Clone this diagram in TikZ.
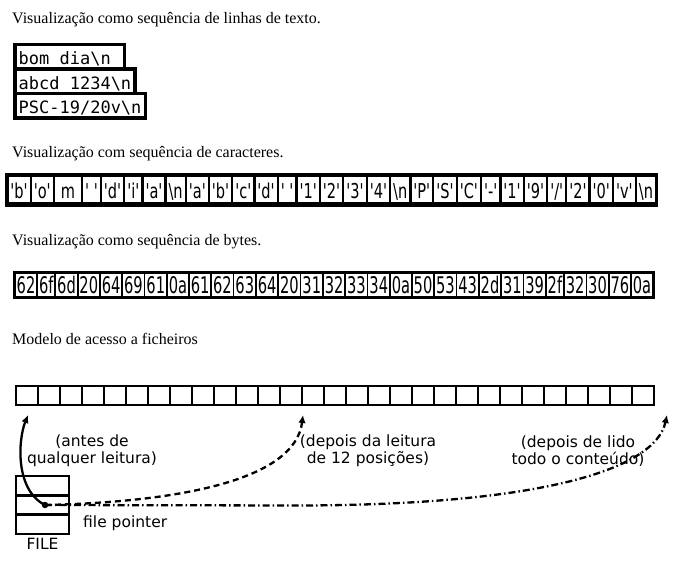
\documentclass[tikz,border=0pt]{standalone}
\usepackage{fontspec}
\setmainfont{Liberation Serif}
\newfontfamily\monofont{DejaVu Sans Mono}
\newfontfamily\cellfontA[FakeStretch=0.71]{DejaVu Sans}
\newfontfamily\cellfontB[FakeStretch=0.64]{DejaVu Sans}
\newfontfamily\labelfont{DejaVu Sans}
\usetikzlibrary{arrows.meta,calc,backgrounds}
\newcommand\sq{\char39\relax}
\newcommand\bsl{\char92\relax}
\begin{document}
\begin{tikzpicture}[x=1pt,y=-1pt,
  title/.style={font=\fontsize{16}{19}\selectfont, inner sep=0pt, anchor=base west},
  linebox/.style={draw, line width=3.3pt, inner xsep=3.7pt, inner ysep=0pt, outer sep=0pt,
    minimum height=24.5pt, text height=16.3pt, text depth=0pt, anchor=north west,
    font=\monofont\fontsize{17}{20}\selectfont},
  ccell/.style={fill=white, inner xsep=1.92pt, inner ysep=0pt, outer sep=0pt,
    minimum height=25pt, text height=16.6pt, text depth=0pt, anchor=west,
    font=\cellfontA\fontsize{20.5}{24}\selectfont},
  bcell/.style={fill=white, inner xsep=0.99pt, inner ysep=0pt, outer sep=0pt,
    minimum height=21pt, text height=16.6pt, text depth=0pt, anchor=west,
    font=\cellfontB\fontsize{22.9}{26}\selectfont},
  mcell/.style={draw, line width=2.4pt, minimum width=21.99pt, minimum height=18.6pt,
    inner sep=0pt, outer sep=0pt, anchor=west},
  fcell/.style={draw, line width=2.4pt, minimum width=52.6pt, minimum height=19.2pt,
    inner sep=0pt, outer sep=0pt},
  lbl/.style={font=\labelfont\fontsize{15.5}{16.7}\selectfont, align=center, inner sep=0pt},
  ptr/.style={line width=2.3pt, -{Latex[length=8pt,width=7.5pt]}},
]
\useasboundingbox (0,0) rectangle (683,564);
\begin{scope}[on background layer]
  \fill[white] (0,0) rectangle (683,564);
\end{scope}

% titles
\node[title] (t1) at (12,24) {Visualização como sequência de linhas de texto.};
\node[title] (t2) at (12,157.3) {Visualização com sequência de caracteres.};
\node[title] (t3) at (12,246) {Visualização como sequência de bytes.};
\node[title] (t4) at (12,344) {Modelo de acesso a ficheiros};

% line boxes
\node[linebox] (l1) at (14.95,44.6) {\makebox[6.02em][l]{bom dia\bsl n}};
\node[linebox] (l2) at (14.95,69.1) {abcd 1234\bsl n};
\node[linebox] (l3) at (14.95,93.6) {PSC-19/20v\bsl n};

% character row
\foreach \t [count=\i, remember=\i as \j (initially 0)] in
  {{\sq b\sq},{\sq o\sq},{\phantom{\sq}m\phantom{\sq}},{\sq\ \sq},{\sq d\sq},{\sq i\sq},{\sq a\sq},{\bsl n},
   {\sq a\sq},{\sq b\sq},{\sq c\sq},{\sq d\sq},{\sq\ \sq},{\sq 1\sq},{\sq 2\sq},{\sq 3\sq},{\sq 4\sq},{\bsl n},
   {\sq P\sq},{\sq S\sq},{\sq C\sq},{\sq -\sq},{\sq 1\sq},{\sq 9\sq},{\sq /\sq},{\sq 2\sq},{\sq 0\sq},{\sq v\sq},{\bsl n}}
{
  \ifnum\i=1
    \node[ccell] (c1) at (8.5,190) {\t};
  \else
    \node[ccell] (c\i) at ([xshift=2.3pt]c\j.east) {\t};
  \fi
}
\begin{scope}[on background layer]
  \fill[black] ($(c1.north west)+(-3.5,-4.2)$) rectangle ($(c29.south east)+(3.5,4.2)$);
\end{scope}

% byte row
\foreach \t [count=\i, remember=\i as \j (initially 0)] in
  {62,6f,6d,20,64,69,61,0a,61,62,63,64,20,31,32,33,34,0a,50,53,43,2d,31,39,2f,32,30,76,0a}
{
  \ifnum\i=1
    \node[bcell] (b1) at (15.7,285) {\t};
  \else
    \node[bcell] (b\i) at ([xshift=1.7pt]b\j.east) {\t};
  \fi
}
\begin{scope}[on background layer]
  \fill[black] ($(b1.north west)+(-3,-3)$) rectangle ($(b29.south east)+(3,3)$);
\end{scope}

% file model
\foreach \i in {1,...,29}
  \node[mcell] (m\i) at ({16.2+(\i-1)*21.99},395.5) {};

\node[fcell] (f1) at (42.5,485.8) {};
\node[fcell] (f2) at (42.5,505) {};
\node[fcell] (f3) at (42.5,524.2) {};
\node[lbl, anchor=base] (filelbl) at (42.5,549) {FILE};
\node[lbl, anchor=base west] (fp) at (83,527.5) {file pointer};

\node[lbl] (lab1) at (92,451) {(antes de\\qualquer leitura)};
\node[lbl] (lab2) at (368,451) {(depois da leitura\\de 12 posições)};
\node[lbl] (lab3) at (578,451) {(depois de lido\\todo o conteúdo)};

\node[circle, fill=black, inner sep=0pt, minimum size=6.5pt] (dot) at (45,505) {};
\coordinate (a1) at (28,415);
\coordinate (a2) at (303,415);
\coordinate (a3) at (667,415);

\draw[ptr] (dot.center) .. controls (15,490) and (18,440) .. (a1);
\draw[ptr, dash pattern=on 6pt off 4pt] (dot.center) .. controls (180,502) and (295,480) .. (a2);
\draw[ptr, dash pattern=on 7pt off 3pt on 1.5pt off 3pt] (dot.center) -- (300,505.5)
  .. controls (540,505) and (655,470) .. (a3);
\end{tikzpicture}
\end{document}
